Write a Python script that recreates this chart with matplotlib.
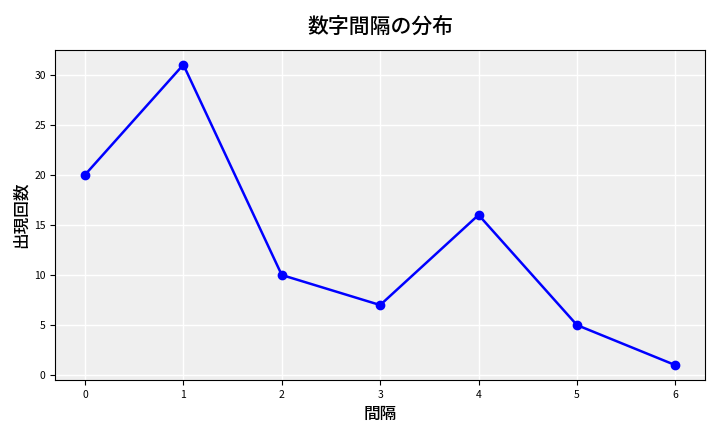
import matplotlib
matplotlib.use("Agg")
import matplotlib.pyplot as plt

plt.rcParams['font.family'] = ['Noto Sans CJK JP', 'DejaVu Sans']

# interval values and how often each appeared
intervals = [0, 1, 2, 3, 4, 5, 6]
counts = [20, 31, 10, 7, 16, 5, 1]

fig, ax = plt.subplots(figsize=(7.2, 4.32), dpi=100)
ax.set_facecolor('#efefef')
ax.grid(True, color='white', linewidth=1.0)
ax.set_axisbelow(True)

ax.plot(intervals, counts, color='blue', marker='o', markersize=6, linewidth=1.8)

ax.set_title('数字間隔の分布', fontsize=15, fontweight='medium', pad=12)
ax.set_xlabel('間隔', fontsize=12, fontweight='medium')
ax.set_ylabel('出現回数', fontsize=12, fontweight='medium', labelpad=3)
ax.tick_params(labelsize=7.5)
ax.set_xticks(intervals)

plt.subplots_adjust(left=0.077, right=0.979, top=0.885, bottom=0.12)
plt.savefig('out.png', dpi=100)
